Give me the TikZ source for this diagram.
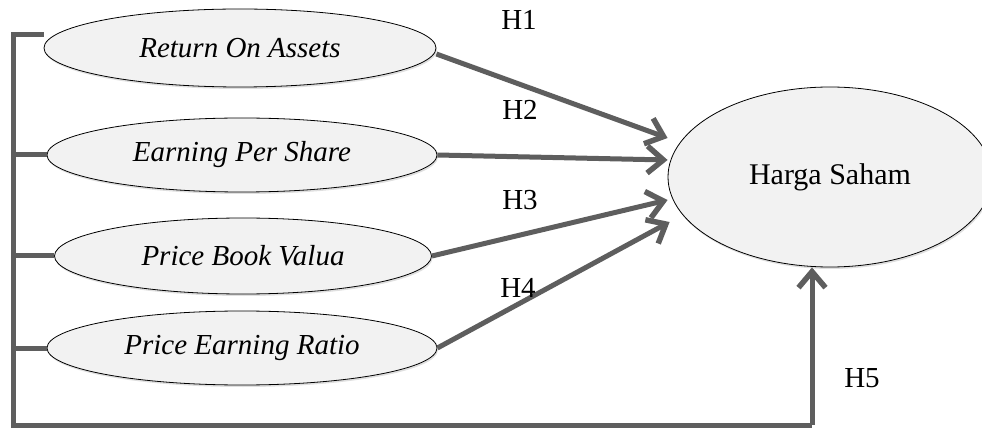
\documentclass[tikz,border=0pt]{standalone}
\usepackage{xcolor}
\usepackage{tikz}
\usepackage{fontspec}
\setmainfont{Liberation Serif}
\usetikzlibrary{shapes.geometric, arrows.meta, positioning, shadows, calc}

\definecolor{garis}{HTML}{5E5E5E}
\definecolor{isi}{HTML}{F2F2F2}

\begin{document}
\begin{tikzpicture}[x=1pt,y=-1pt,
    variabel/.style={ellipse,draw=black,line width=0.8pt,fill=isi,inner sep=0pt,
        drop shadow={opacity=0.25,shadow xshift=1pt,shadow yshift=-2pt}},
    garisabu/.style={draw=garis,line width=5pt},
    panah/.style={garisabu,-{Straight Barb[length=16pt,width=27pt,line width=5.5pt]}},
    hipotesis/.style={font=\fontsize{29}{32}\selectfont}]
    \useasboundingbox (0,0) rectangle (982,430);

    % Variabel independen
    \node[variabel,minimum width=392pt,minimum height=78pt,font=\fontsize{29}{32}\selectfont\itshape] (roa) at (240,48) {Return On Assets};
    \node[variabel,minimum width=390pt,minimum height=74pt,font=\fontsize{29}{32}\selectfont\itshape] (eps) at (242,155) {Earning Per Share};
    \node[variabel,minimum width=377pt,minimum height=76pt,font=\fontsize{29}{32}\selectfont\itshape] (pbv) at (243,256) {Price Book Valua};
    \node[variabel,minimum width=390pt,minimum height=74pt,font=\fontsize{29}{32}\selectfont\itshape] (per) at (242,348) {Price Earning Ratio};

    % Variabel dependen
    \node[variabel,minimum width=324pt,minimum height=180pt,font=\fontsize{30}{34}\selectfont] (harga) at (830,177) {Harga Saham};

    % Garis simultan
    \coordinate (atas) at (13,35);
    \coordinate (bawah) at (13,425);
    \coordinate (ujung) at (812,425);
    \draw[garisabu] (atas -| roa.west) -- (atas) -- (bawah) -- (ujung);
    \draw[garisabu] (eps.west) -- (eps.west -| atas);
    \draw[garisabu] (pbv.west) -- (pbv.west -| atas);
    \draw[garisabu] (per.west) -- (per.west -| atas);
    \draw[panah] (ujung) -- (ujung |- harga.south);

    % Hipotesis parsial
    \draw[panah] ([yshift=-6pt]roa.east) -- ([yshift=39pt]harga.west);
    \draw[panah] (eps.east) -- ([yshift=17pt]harga.west);
    \draw[panah] (pbv.east) -- ([yshift=-23pt]harga.west);
    \draw[panah] (per.east) -- ([xshift=2pt,yshift=-45pt]harga.west);

    % Label
    \node[hipotesis] (h1) at (519,20) {H1};
    \node[hipotesis] (h2) at (520,110) {H2};
    \node[hipotesis] (h3) at (520,200) {H3};
    \node[hipotesis] (h4) at (518,288) {H4};
    \node[hipotesis] (h5) at (862,378) {H5};
\end{tikzpicture}
\end{document}
